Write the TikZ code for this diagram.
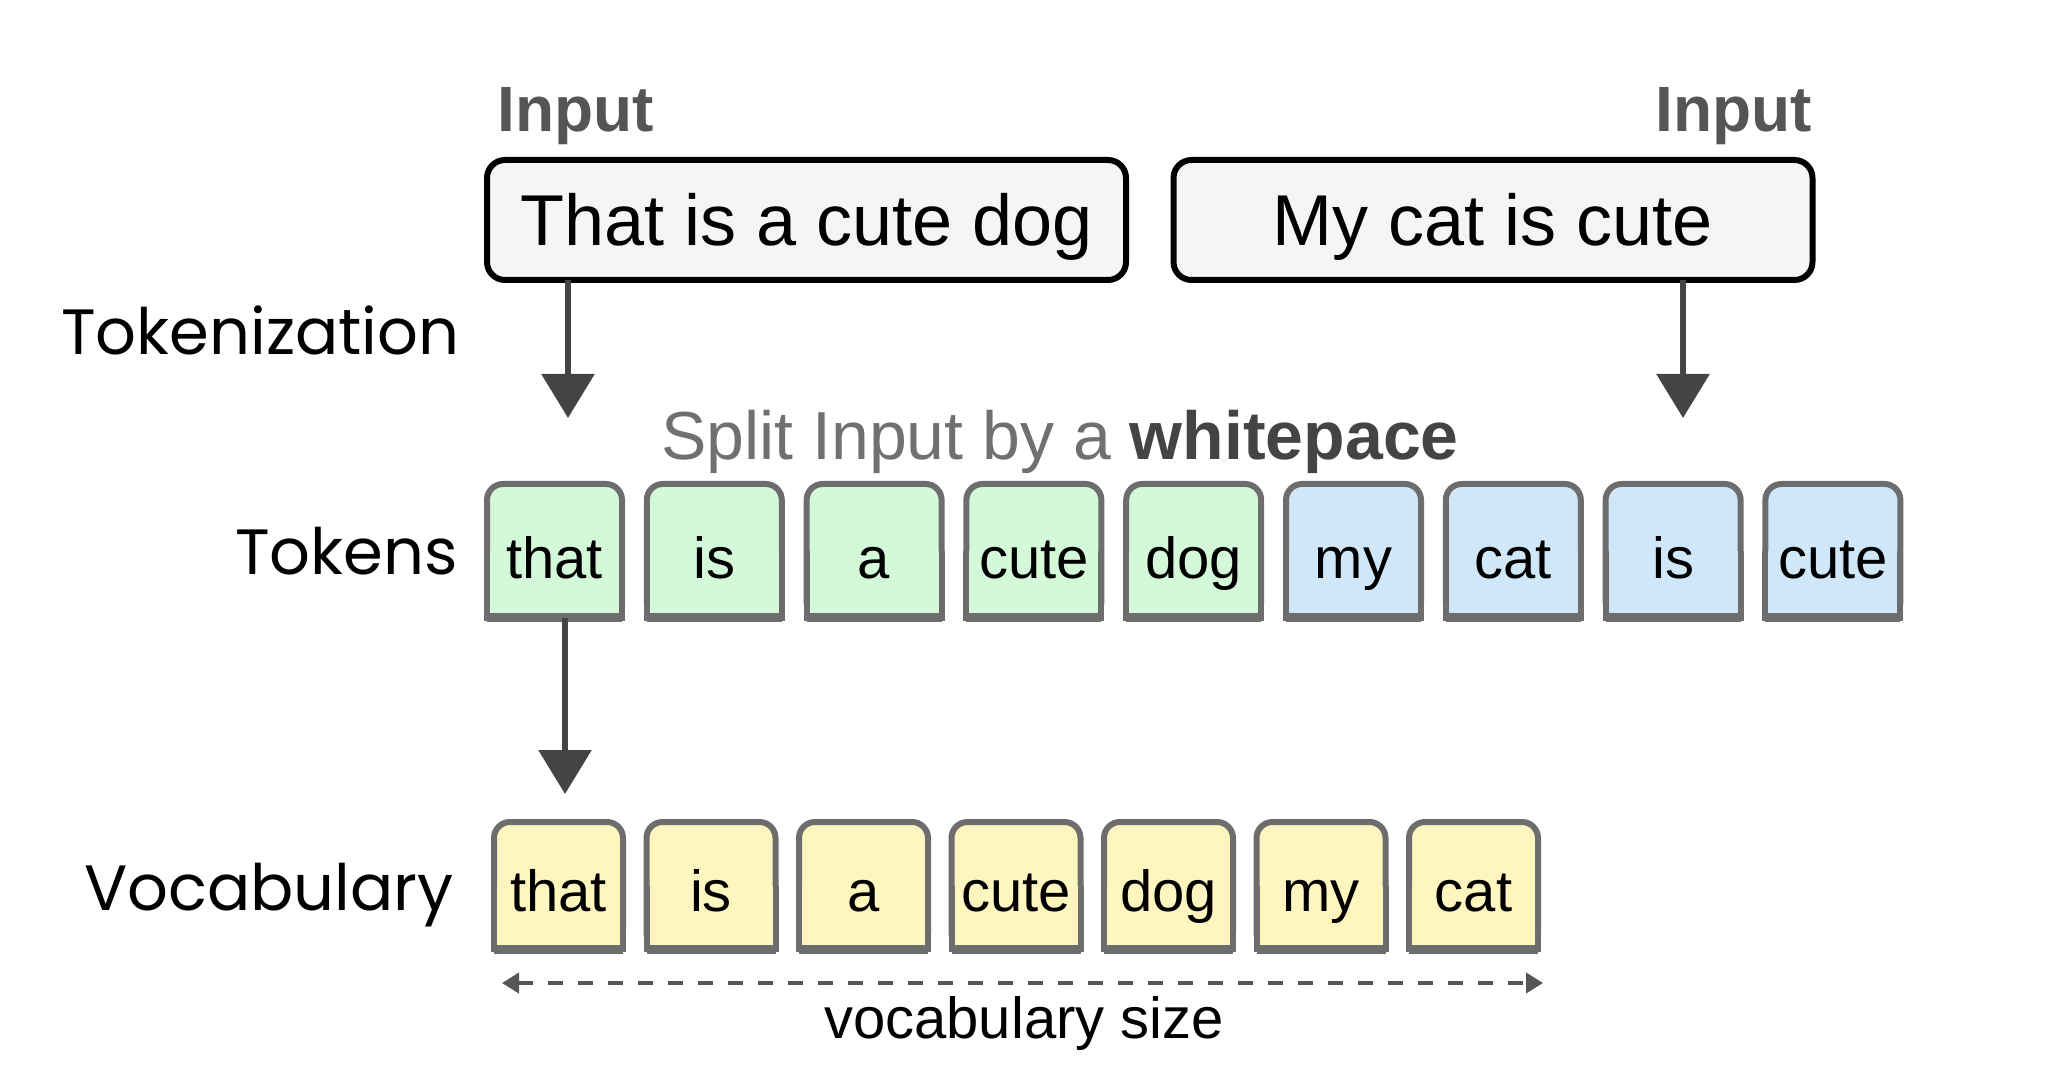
\documentclass[tikz,border=0pt]{standalone}
\usepackage{fontspec}
\setmainfont{Liberation Sans}
\newfontfamily\pop{Poppins}
\usetikzlibrary{arrows.meta,backgrounds}
\definecolor{tokgreen}{HTML}{D3F9D8}
\definecolor{tokblue}{HTML}{D0E7F9}
\definecolor{tokyellow}{HTML}{FFF5BF}
\definecolor{tokborder}{HTML}{6D6D6D}
\definecolor{infill}{HTML}{F5F5F5}
\definecolor{arrowgray}{HTML}{444444}
\definecolor{labgray}{HTML}{555555}
\definecolor{splitgray}{HTML}{707070}
\begin{document}
\begin{tikzpicture}[x=0.5pt,y=-0.5pt,
  inbox/.style={draw=black, line width=3pt, fill=infill, rounded corners=9pt,
    minimum width=319.5pt, minimum height=60pt, inner sep=0pt, outer sep=0pt,
    text height=26pt, text depth=0pt, font=\fontsize{36}{40}\selectfont},
  tok/.style={minimum width=67.5pt, minimum height=67pt, inner sep=0pt, outer sep=0pt,
    text height=27.6pt, text depth=0pt, font=\fontsize{29}{32}\selectfont},
  voc/.style={minimum width=64.5pt, minimum height=63.5pt, inner sep=0pt, outer sep=0pt,
    text height=25.6pt, text depth=0pt, font=\fontsize{29}{32}\selectfont},
  rowlab/.style={anchor=base east, inner sep=0pt, font=\pop\fontsize{32}{36}\selectfont},
  inlab/.style={inner sep=0pt, text=labgray, font=\bfseries\fontsize{32}{36}\selectfont},
  boxline/.style={draw=tokborder, line width=3pt},
  arr/.style={draw=arrowgray, line width=3pt, -{Triangle[width=26pt,length=22pt]}},
  dasharr/.style={draw=labgray, line width=2pt, dash pattern=on 7.5pt off 7.5pt,
    {Triangle[width=10pt,length=8.5pt]}-{Triangle[width=10pt,length=8.5pt]}}
]
\useasboundingbox (0,0) rectangle (2062,1074);

% input boxes
\node[inbox] (inL) at (806.5,220) {That is a cute dog};
\node[inbox] (inR) at (1493,220) {My cat is cute};
\node[inlab, anchor=base west] (labL) at (497,131.5) {Input};
\node[inlab, anchor=base east] (labR) at (1812,131.5) {Input};

% row labels
\node[rowlab] (lTokz) at (460,355) {Tokenization};
\node[rowlab] (lTok) at (458,575) {Tokens};
\node[rowlab] (lVoc) at (454,910) {Vocabulary};

% split text
\node[anchor=base, inner sep=0pt, text=splitgray, font=\fontsize{34}{38}\selectfont] (split) at (1060,460)
  {Split Input by a \textcolor{arrowgray}{\bfseries whitepace}};

% tokens
\foreach \i/\w in {1/that,2/is,3/a,4/cute,5/dog,6/my,7/cat,8/is,9/cute}
  \node[tok] (t\i) at ({554.5+159.8*(\i-1)},551) {\w};
% vocabulary
\foreach \i/\w in {1/that,2/is,3/a,4/cute,5/dog,6/my,7/cat}
  \node[voc] (v\i) at ({558.5+152.5*(\i-1)},885.5) {\w};

\begin{scope}[on background layer]
  \foreach \n/\c in {t1/tokgreen,t2/tokgreen,t3/tokgreen,t4/tokgreen,t5/tokgreen,
                     t6/tokblue,t7/tokblue,t8/tokblue,t9/tokblue,
                     v1/tokyellow,v2/tokyellow,v3/tokyellow,v4/tokyellow,v5/tokyellow,v6/tokyellow,v7/tokyellow}{
    \filldraw[boxline, fill=\c, rounded corners=8pt] (\n.south west) rectangle (\n.north east);
    \filldraw[boxline, fill=\c] (\n.west) -- (\n.south west) -- (\n.south east) -- (\n.east);
    \draw[draw=tokborder, line width=4.5pt] (\n.south west) -- (\n.south east);
  }
\end{scope}

% arrows
\coordinate (a1) at (568,418);
\coordinate (a2) at (1683,418);
\coordinate (a3) at (565,794);
\draw[arr] (inL.south -| a1) -- (a1);
\draw[arr] (inR.south -| a2) -- (a2);
\draw[arr] (t1.south -| a3) -- (a3);

% vocabulary size
\coordinate (d1) at (502,983);
\coordinate (d2) at (1543,983);
\draw[dasharr] (d1) -- (d2);
\node[anchor=base, inner sep=0pt, font=\fontsize{29}{32}\selectfont] (vsize) at (1024,1038) {vocabulary size};
\end{tikzpicture}
\end{document}
